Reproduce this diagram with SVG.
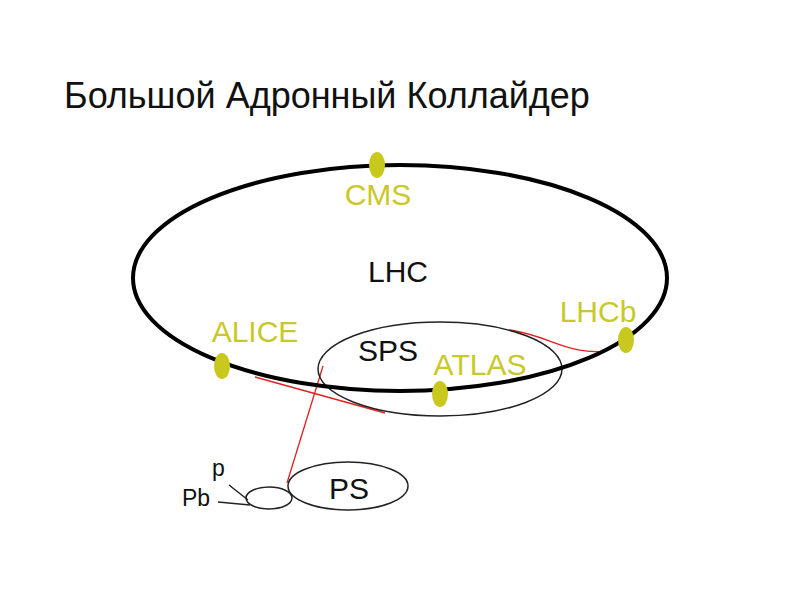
<svg xmlns="http://www.w3.org/2000/svg" width="800" height="600" viewBox="0 0 800 600">
<style>
text{font-family:"Liberation Sans",Arial,sans-serif}
.y{fill:#c8c828;font-size:30px}
.k{fill:#111;font-size:30px}
.dot{fill:#c8c81e}
.ring{fill:none;stroke:#222;stroke-width:1.5}
.red{fill:none;stroke:#e02020;stroke-width:1.3}
</style>
<rect width="800" height="600" fill="#fff"/>
<text x="64" y="108" font-size="36" fill="#111">Большой Адронный Коллайдер</text>
<g id="connectors">
<path class="red" d="M323,366 L287,483"/>
<path class="red" d="M255,377 L385,413"/>
<path class="red" d="M510,330 C550,336 560,352 603,352"/>
<path d="M229,485 L248,500" stroke="#222" stroke-width="1.5"/>
<path d="M218,502 L250,505" stroke="#222" stroke-width="1.5"/>
</g>
<g id="SPS"><ellipse class="ring" cx="440" cy="369" rx="122" ry="47"/><text class="k" x="388" y="361" text-anchor="middle">SPS</text></g>
<g id="LHC"><ellipse cx="400" cy="278" rx="267" ry="113" fill="none" stroke="#000" stroke-width="4"/><text class="k" x="398" y="282" text-anchor="middle">LHC</text></g>
<g id="PS"><ellipse class="ring" cx="348" cy="486" rx="60" ry="24"/><text class="k" x="349" y="499" text-anchor="middle">PS</text></g>
<g id="booster"><ellipse class="ring" cx="269" cy="498" rx="23" ry="11"/></g>
<g id="p"><text x="212" y="476" font-size="23" fill="#111">p</text></g>
<g id="Pb"><text x="182" y="506" font-size="23" fill="#111">Pb</text></g>
<g id="CMS"><ellipse class="dot" cx="377" cy="165" rx="8" ry="13"/><text class="y" x="378" y="205" text-anchor="middle">CMS</text></g>
<g id="ALICE"><ellipse class="dot" cx="222" cy="366" rx="8" ry="13"/><text class="y" x="255" y="342" text-anchor="middle">ALICE</text></g>
<g id="ATLAS"><ellipse class="dot" cx="440" cy="394" rx="8" ry="13"/><text class="y" x="480" y="375" text-anchor="middle">ATLAS</text></g>
<g id="LHCb"><ellipse class="dot" cx="626" cy="340" rx="8" ry="13"/><text class="y" x="598" y="322" text-anchor="middle">LHCb</text></g>
</svg>
